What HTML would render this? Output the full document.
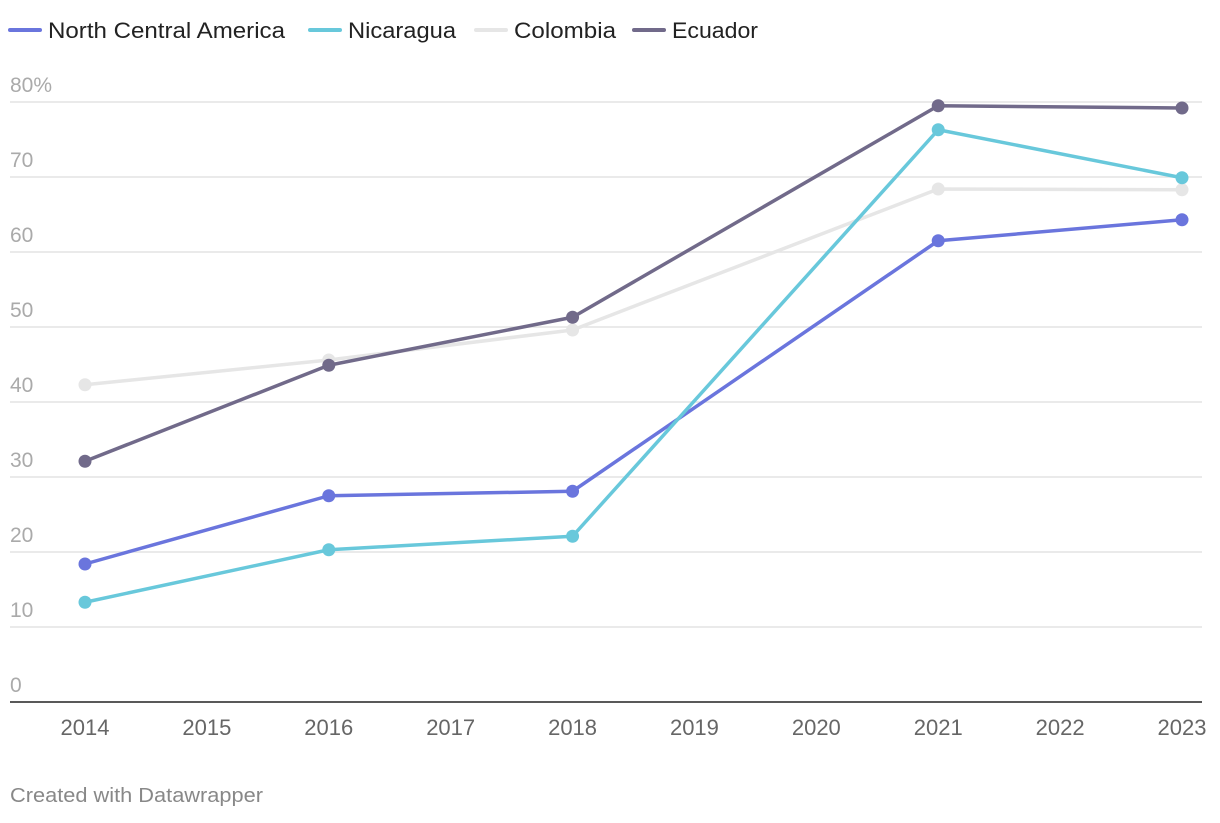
<!DOCTYPE html>
<html><head><meta charset="utf-8"><style>
body{margin:0;background:#fff;width:1220px;height:818px;overflow:hidden;font-family:"Liberation Sans",sans-serif}
</style></head><body>
<svg id="chart" width="1220" height="818" xmlns="http://www.w3.org/2000/svg" font-family="Liberation Sans, sans-serif">
<g id="legend"></g>
<g id="grid"></g>
<g id="lines"></g>
<text x="10" y="802" font-size="20" fill="#888" textLength="253" lengthAdjust="spacingAndGlyphs">Created with Datawrapper</text>
</svg>
<script>
const years = [2014,2015,2016,2017,2018,2019,2020,2021,2022,2023];
const yTicks = [0,10,20,30,40,50,60,70,80];
const seriesNames = ["North Central America","Nicaragua","Colombia","Ecuador"];
const seriesColors = ["#6a75dd","#68c8db","#e6e6e6","#716a8a"];
const dataYears = [2014,2016,2018,2021,2023];
const nca = [18.4,27.5,28.1,61.5,64.3];
const nicaragua = [13.3,20.3,22.1,76.3,69.9];
const colombia = [42.3,45.6,49.6,68.4,68.3];
const ecuador = [32.1,44.9,51.3,79.5,79.2];
const allSeries = [nca,nicaragua,colombia,ecuador];
const NS="http://www.w3.org/2000/svg";
const x = y => 85 + (y-2014)*(1182-85)/9;
const yS = v => 702 - v*7.5;
function mk(t,a,p){const e=document.createElementNS(NS,t);for(const k in a)e.setAttribute(k,a[k]);p.appendChild(e);return e;}
const grid=document.getElementById('grid');
yTicks.forEach(t=>{
  if(t>0){const l=mk('line',{x1:10,x2:1202,y1:yS(t),y2:yS(t),stroke:'#e3e3e3','stroke-width':1.5},grid);
  
  }
  const tx=mk('text',{x:10,y:yS(t)-10,'font-size':21,fill:'#aaa'},grid);
  tx.textContent=t+(t===80?'%':'');
  
  
});
const ax=mk('line',{x1:10,x2:1202,y1:702,y2:702,stroke:'#222','stroke-width':1.5},grid);


years.forEach(yr=>{
  const tx=mk('text',{x:x(yr),y:735,'font-size':22,fill:'#666','text-anchor':'middle'},grid);
  tx.textContent=yr;
  
  
});
const lines=document.getElementById('lines');
[2,0,1,3].forEach(i=>{
  const d=allSeries[i];
  const pts=dataYears.map((yr,j)=>x(yr)+','+yS(d[j])).join(' ');
  const pl=mk('polyline',{points:pts,fill:'none',stroke:seriesColors[i],'stroke-width':3.5,'stroke-linejoin':'round'},lines);
  
  
  dataYears.forEach((yr,j)=>{
    const c=mk('circle',{cx:x(yr),cy:yS(d[j]),r:6.5,fill:seriesColors[i]},lines);
    
    
  });
});
const lg=document.getElementById('legend');
const legX=[10,310,476,634];
const legW=[237,108,102,86];
seriesNames.forEach((n,i)=>{
  const lx=legX[i];
  const l=mk('line',{x1:lx,x2:lx+30,y1:30,y2:30,stroke:seriesColors[i],'stroke-width':4,'stroke-linecap':'round'},lg);
  
  
  const t=mk('text',{x:lx+38,y:38,'font-size':22,fill:'#222',textLength:legW[i],lengthAdjust:'spacingAndGlyphs'},lg);
  t.textContent=n;
  
  
});
</script>
</body></html>
